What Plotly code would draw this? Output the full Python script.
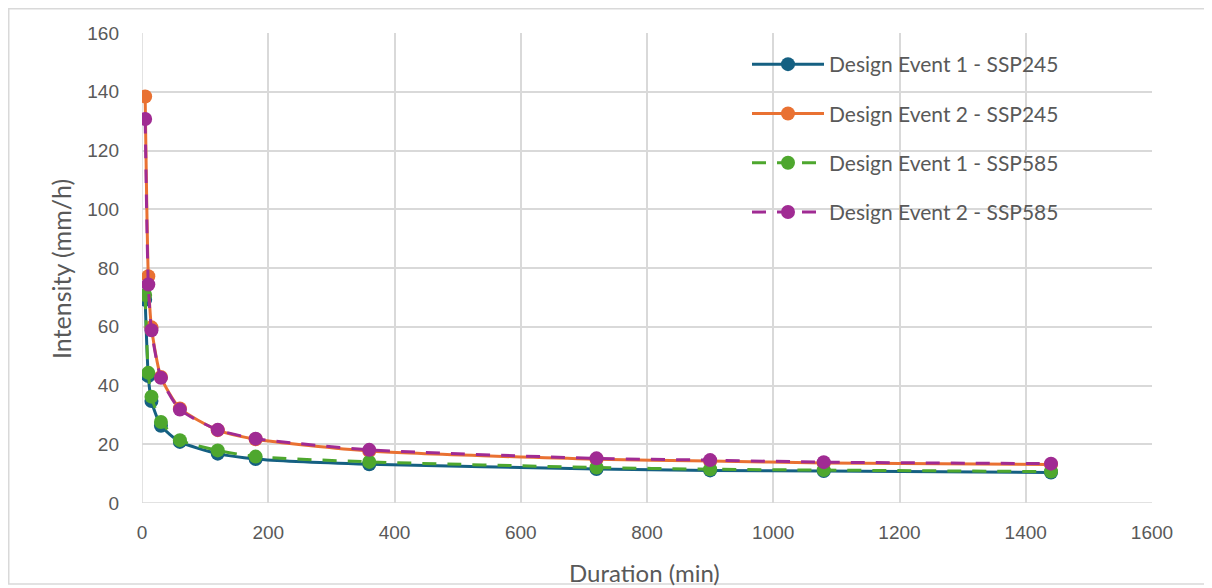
import plotly.graph_objects as go

duration = [5, 10, 15, 30, 60, 120, 180, 360, 720, 900, 1080, 1440]
de1_ssp245 = [69.2, 43.2, 34.7, 26.3, 20.8, 16.8, 15.0, 13.2, 11.6, 11.1, 10.9, 10.4]
de2_ssp245 = [138.4, 77.2, 59.8, 42.9, 32.2, 24.8, 21.7, 17.7, 14.9, 14.3, 13.6, 13.1]
de1_ssp585 = [70.8, 44.3, 36.2, 27.6, 21.4, 17.9, 15.8, 14.0, 12.1, 11.5, 11.2, 10.7]
de2_ssp585 = [130.7, 74.4, 58.8, 42.6, 31.8, 24.9, 21.9, 18.1, 15.2, 14.6, 13.9, 13.4]

names = ["Design Event 1 - SSP245", "Design Event 2 - SSP245",
         "Design Event 1 - SSP585", "Design Event 2 - SSP585"]
series = [de1_ssp245, de2_ssp245, de1_ssp585, de2_ssp585]
colors = ["#156082", "#E97132", "#4EA72E", "#A02B93"]
dashes = ["solid", "solid", "14px,11px", "14px,11px"]

fig = go.Figure()
for i, (nm, ys, c, d) in enumerate(zip(names, series, colors, dashes)):
    fig.add_trace(go.Scatter(
        x=duration, y=ys, name=nm, mode="lines+markers",
        line=dict(color=c, width=3, dash=d, shape="spline", smoothing=0.6),
        marker=dict(color=c, size=14),
        legendgroup=f"g{i}",
    ))

# page is offset by the 8px body margin
OFF = 8
W, H = 1204, 580
L, R, T, B = 142 - OFF, 60, 33 - OFF, 85
pw, ph = W - L - R, H - T - B

def px(x):
    # x given in page pixels
    return (x - OFF - L) / pw

def py(y):
    return (H - B - (y - OFF)) / ph

title_font = dict(family="Lato, sans-serif", size=24, color="#595959")

fig.update_layout(
    width=W, height=H,
    margin=dict(l=L, r=R, t=T, b=B),
    paper_bgcolor="white", plot_bgcolor="white",
    font=dict(family="Liberation Sans, Arial, sans-serif", size=19, color="#595959"),
    xaxis=dict(
        range=[0, 1600], dtick=200, showgrid=True, gridcolor="#d9d9d9", gridwidth=1.5,
        zeroline=False, showline=False, ticks="", ticklabelstandoff=16,
        tickfont=dict(size=19, color="#595959"),
    ),
    yaxis=dict(
        range=[0, 160], dtick=20, showgrid=True, gridcolor="#d9d9d9", gridwidth=1.5,
        zeroline=False, showline=False, ticks="", ticklabelstandoff=22,
        tickfont=dict(size=19, color="#595959"),
    ),
    legend=dict(
        x=px(747), y=py(44), xanchor="left", yanchor="top",
        bgcolor="rgba(255,255,255,0)", borderwidth=0,
        font=dict(family="Lato, sans-serif", size=21, color="#595959"),
        tracegroupgap=19, itemwidth=72,
    ),
    showlegend=True,
    annotations=[
        dict(text="Duration (min)", x=px(644), y=py(572), xref="paper", yref="paper",
             xanchor="center", yanchor="middle", showarrow=False, font=title_font),
        dict(text="Intensity (mm/h)", x=px(61), y=py(269), xref="paper", yref="paper",
             xanchor="center", yanchor="middle", showarrow=False, textangle=-90,
             font=dict(family="Lato, sans-serif", size=25, color="#595959")),
    ],
)

# left axis line and bottom axis line (gray)
fig.add_shape(type="line", xref="x", yref="y", x0=0, x1=0, y0=0, y1=160,
              line=dict(color="#d9d9d9", width=1.5), layer="below")
fig.add_shape(type="line", xref="x", yref="y", x0=0, x1=1600, y0=0, y1=0,
              line=dict(color="#d9d9d9", width=1.5), layer="below")

# outer chart border
fig.add_shape(type="rect", xref="paper", yref="paper",
              x0=px(8.75), x1=px(1206), y0=py(584), y1=py(8.75),
              line=dict(color="#d9d9d9", width=1.5), fillcolor="rgba(0,0,0,0)")

fig.write_html("out.html")
